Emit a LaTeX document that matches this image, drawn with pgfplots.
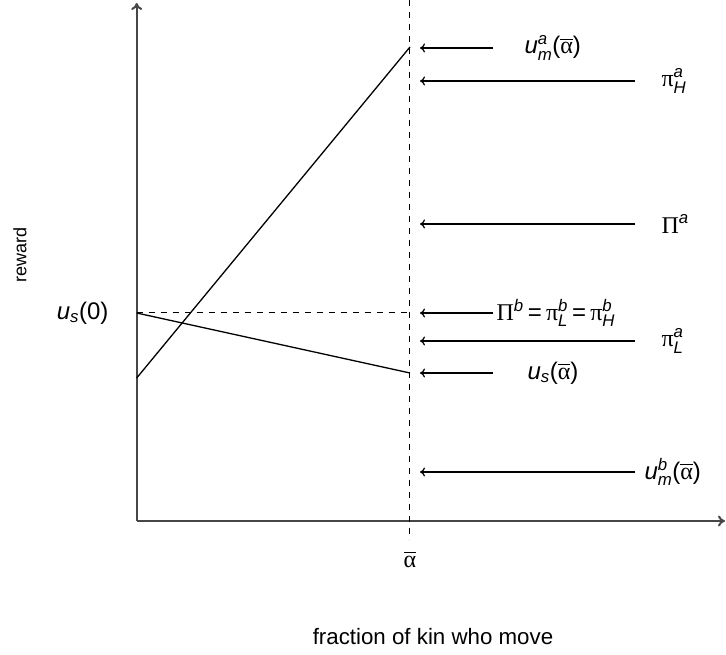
\documentclass[border=0pt]{standalone}
\usepackage{pgfplots}
\pgfplotsset{compat=1.18}
\usepackage{amsmath}
\usepackage{fontspec}
\setmainfont{Liberation Sans}
\newfontfamily\grk{Liberation Serif}
\usetikzlibrary{arrows.meta}

% italic Latin letter and upright Greek letters, set in the text fonts
\newcommand{\vi}[1]{\text{\itshape #1}}
\newcommand{\gr}[1]{\text{\grk #1}}
\newcommand{\abar}{\overline{\gr{α}}}
\newcommand{\eqs}{\mathord{\,\text{=}\,}}
\tikzset{lbl/.style={font=\fontsize{24}{28}\selectfont}}

\begin{document}
\begin{tikzpicture}
\begin{axis}[
  x=1pt, y=1pt,
  scale only axis,
  xmin=136.7, xmax=725,
  ymin=134, ymax=652,
  axis lines=left,
  axis line style={draw=black!72, line width=2pt, -{To[length=7pt,width=11pt]}},
  xtick=\empty, ytick=\empty,
  clip=false,
  every node/.style={inner sep=0pt},
]
% the two reward lines
\addplot[black, line width=1.3pt] coordinates {(136.7,277) (410,608)};
\addplot[black, line width=1.3pt] coordinates {(136.7,342) (410,282)};
% reference lines at u_s(0) and at alpha-bar
\addplot[black, line width=1pt, dash pattern=on 6pt off 6pt] coordinates {(136.7,342) (410,342)};
\addplot[black, line width=1pt, dash pattern=on 6pt off 6pt] coordinates {(410,655) (410,115)};
% pointers to the values at alpha-bar
\addplot[black, line width=1.2pt, -{To[length=5pt,width=9pt]}] coordinates {(493,607) (420,607)};
\addplot[black, line width=1.2pt, -{To[length=5pt,width=9pt]}] coordinates {(635,574) (420,574)};
\addplot[black, line width=1.2pt, -{To[length=5pt,width=9pt]}] coordinates {(635,431) (420,431)};
\addplot[black, line width=1.2pt, -{To[length=5pt,width=9pt]}] coordinates {(493,342) (420,342)};
\addplot[black, line width=1.2pt, -{To[length=5pt,width=9pt]}] coordinates {(635,314) (420,314)};
\addplot[black, line width=1.2pt, -{To[length=5pt,width=9pt]}] coordinates {(493,282) (420,282)};
\addplot[black, line width=1.2pt, -{To[length=5pt,width=9pt]}] coordinates {(635,183) (420,183)};

\node[anchor=west, lbl] at (axis cs:521,607) {$\vi{u}_{\vi{m}}^{\vi{a}}\text{(}\abar\text{)}$};
\node[anchor=west, lbl] at (axis cs:658,574) {$\gr{π}_{\vi{H}}^{\vi{a}}$};
\node[anchor=west, lbl] at (axis cs:658,431) {$\gr{Π}^{\vi{a}}$};
\node[anchor=west, lbl] at (axis cs:493,342) {$\gr{Π}^{\vi{b}}\eqs\gr{π}_{\vi{L}}^{\vi{b}}\eqs\gr{π}_{\vi{H}}^{\vi{b}}$};
\node[anchor=west, lbl] at (axis cs:658,314) {$\gr{π}_{\vi{L}}^{\vi{a}}$};
\node[anchor=west, lbl] at (axis cs:524,282) {$\vi{u}_{\vi{s}}\text{(}\abar\text{)}$};
\node[anchor=west, lbl] at (axis cs:641,183) {$\vi{u}_{\vi{m}}^{\vi{b}}\text{(}\abar\text{)}$};
\node[anchor=east, lbl] at (axis cs:112,342) {$\vi{u}_{\vi{s}}\text{(0)}$};
\node[lbl] at (axis cs:410,96) {$\abar$};

\node[rotate=90, font=\fontsize{18}{22}\selectfont] at (axis cs:20,400) {reward};
\node[font=\fontsize{22.3}{26}\selectfont] at (axis cs:433,18) {fraction of kin who move};

\coordinate (bl) at (axis cs:0,0);
\coordinate (tr) at (axis cs:726,655);
\end{axis}
\pgfresetboundingbox
\path[use as bounding box] (bl) rectangle (tr);
\end{tikzpicture}
\end{document}
